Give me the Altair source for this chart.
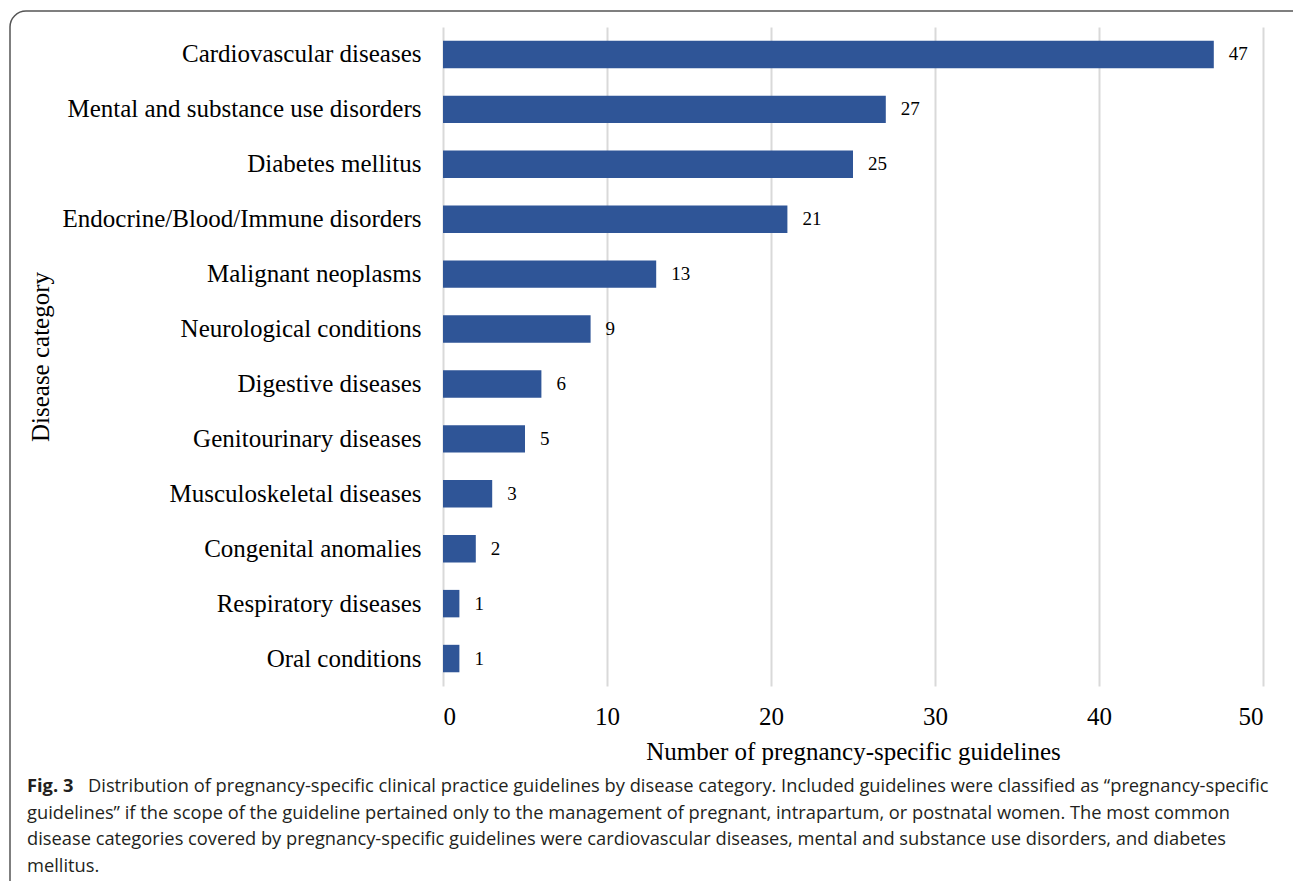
import altair as alt
import pandas as pd

# Disease categories and number of pregnancy-specific guidelines
categories = [
    "Cardiovascular diseases",
    "Mental and substance use disorders",
    "Diabetes mellitus",
    "Endocrine/Blood/Immune disorders",
    "Malignant neoplasms",
    "Neurological conditions",
    "Digestive diseases",
    "Genitourinary diseases",
    "Musculoskeletal diseases",
    "Congenital anomalies",
    "Respiratory diseases",
    "Oral conditions",
]
counts = [47, 27, 25, 21, 13, 9, 6, 5, 3, 2, 1, 1]

x_ticks = [0, 10, 20, 30, 40, 50]

caption_bold = "Fig. 3"
caption_lines = [
    "Distribution of pregnancy-specific clinical practice guidelines by disease category. Included guidelines were classified as \u201cpregnancy-specific",
    "guidelines\u201d if the scope of the guideline pertained only to the management of pregnant, intrapartum, or postnatal women. The most common",
    "disease categories covered by pregnancy-specific guidelines were cardiovascular diseases, mental and substance use disorders, and diabetes",
    "mellitus.",
]

df = pd.DataFrame({"category": categories, "count": counts})

PW, PH = 820, 659
LEFT, TOP = 443, 27
SERIF = "Liberation Serif"
SANS = "Open Sans"
CAP_SIZE = 18.3

y_enc = alt.Y(
    "category:N",
    sort=categories,
    scale=alt.Scale(paddingInner=0.5, paddingOuter=0.25),
    axis=alt.Axis(
        title="Disease category",
        titleFont=SERIF,
        titleFontSize=25,
        titleFontWeight="normal",
        titleColor="#000000",
        titleX=40 - LEFT,
        titleBaseline="middle",
        labelFont=SERIF,
        labelFontSize=25,
        labelColor="#000000",
        labelPadding=22,
        ticks=False,
        domain=False,
        labelLimit=500,
    ),
)

x_enc = alt.X(
    "count:Q",
    scale=alt.Scale(domain=[0, 50], nice=False),
    axis=alt.Axis(
        values=x_ticks,
        title="Number of pregnancy-specific guidelines",
        titleFont=SERIF,
        titleFontSize=25,
        titleFontWeight="normal",
        titleColor="#000000",
        titlePadding=10,
        labelFont=SERIF,
        labelFontSize=25,
        labelColor="#000000",
        labelPadding=18,
        ticks=False,
        domain=False,
        grid=True,
        gridColor="#d9d9d9",
        gridWidth=2,
    ),
)

bars = alt.Chart(df).mark_bar(color="#2F5597").encode(x=x_enc, y=y_enc)

values = alt.Chart(df).mark_text(
    align="left", baseline="middle", dx=15, font=SERIF, fontSize=19, color="#000000"
).encode(x="count:Q", y=alt.Y("category:N", sort=categories), text="count:Q")

# Rounded frame around the figure
frame = alt.Chart(pd.DataFrame({"k": [0]})).mark_rect(
    fill=None, stroke="#555555", strokeWidth=1.5, cornerRadius=16, clip=False
).encode(
    x=alt.value(10 - LEFT),
    x2=alt.value(1320 - LEFT),
    y=alt.value(11 - TOP),
    y2=alt.value(920 - TOP),
)

# Caption beneath the chart
cap_bold = alt.Chart(pd.DataFrame({"t": [caption_bold]})).mark_text(
    align="left", baseline="middle", font=SANS, fontSize=CAP_SIZE, fontWeight="bold",
    color="#231f20"
).encode(x=alt.value(27 - LEFT), y=alt.value(787 - TOP), text="t:N")

cap_rows = []
for i, line in enumerate(caption_lines):
    xpos = (88 if i == 0 else 27) - LEFT
    ypos = 787 + i * 26.5 - TOP
    cap_rows.append(
        alt.Chart(pd.DataFrame({"t": [line]})).mark_text(
            align="left", baseline="middle", font=SANS, fontSize=CAP_SIZE,
            color="#231f20"
        ).encode(x=alt.value(xpos), y=alt.value(ypos), text="t:N")
    )

chart = alt.layer(frame, bars, values, cap_bold, *cap_rows).properties(
    width=PW,
    height=PH,
    padding={"left": LEFT, "top": TOP, "right": 1293 - LEFT - PW, "bottom": 881 - TOP - PH},
    autosize=alt.AutoSizeParams(type="none"),
    background="#ffffff",
).configure_view(stroke=None)

chart.save("out.html", embed_options={"renderer": "svg", "actions": False})
